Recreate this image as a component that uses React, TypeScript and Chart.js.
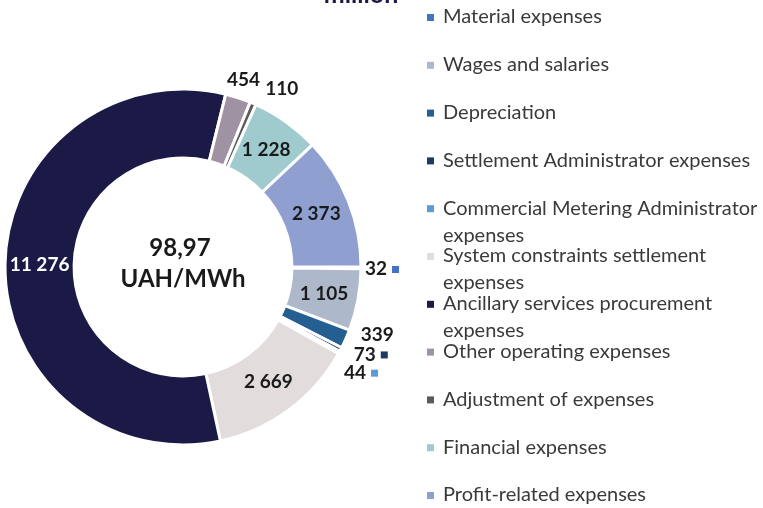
import React, { useEffect, useRef } from "react";
import { Chart, registerables } from "chart.js";

Chart.register(...registerables);

const categories: (string | string[])[] = [
  "Material expenses",
  "Wages and salaries",
  "Depreciation",
  "Settlement Administrator expenses",
  ["Commercial Metering Administrator", "expenses"],
  ["System constraints settlement", "expenses"],
  ["Ancillary services procurement", "expenses"],
  "Other operating expenses",
  "Adjustment of expenses",
  "Financial expenses",
  "Profit-related expenses",
];

const values = [32, 1105, 339, 73, 44, 2669, 11276, 454, 110, 1228, 2373];

const valueLabels = ["32", "1 105", "339", "73", "44", "2 669", "11 276", "454", "110", "1 228", "2 373"];

const colors = [
  "#4472c4",
  "#adb9ca",
  "#255e91",
  "#203864",
  "#5b9bd5",
  "#e2dcdc",
  "#1b1a47",
  "#9f92a3",
  "#5a5a5a",
  "#9fcbcf",
  "#8e9fd0",
];

const centerLines = ["98,97", "UAH/MWh"];
const titleText = "million";

// outside label placement: [extra radius, dx, dy, square]
const outside: Record<number, [number, number, number, boolean]> = {
  0: [15, 0, 1, true],
  2: [17, 16, -11, false],
  3: [17, 9, -3, true],
  4: [17, 1, 12, true],
  7: [17, 0, -2, false],
  8: [17, 22, 1, false],
};

const FONT = "Lato, 'Open Sans', sans-serif";

const customPlugin = {
  id: "custom",
  afterDraw(chart: any) {
    const ctx: CanvasRenderingContext2D = chart.ctx;
    const meta = chart.getDatasetMeta(0);
    ctx.save();
    ctx.font = `bold 19px ${FONT}`;
    ctx.textBaseline = "middle";
    meta.data.forEach((arc: any, i: number) => {
      const { x, y, startAngle, endAngle, outerRadius } = arc.getProps(
        ["x", "y", "startAngle", "endAngle", "outerRadius"],
        true
      );
      const txt = valueLabels[i];
      const place = outside[i];
      if (place) {
        const mid = (startAngle + endAngle) / 2;
        const r = outerRadius + place[0];
        const px = x + Math.cos(mid) * r + place[1];
        const py = y + Math.sin(mid) * r + place[2];
        ctx.fillStyle = "#1a1a1a";
        ctx.textAlign = "center";
        ctx.fillText(txt, px, py);
        if (place[3]) {
          const w = ctx.measureText(txt).width;
          ctx.fillStyle = colors[i];
          ctx.fillRect(px + w / 2 + 5, py - 3, 7, 7);
        }
      } else {
        const p = arc.tooltipPosition(true);
        ctx.fillStyle = i === 6 ? "#ffffff" : "#1a1a1a";
        ctx.textAlign = "center";
        ctx.fillText(txt, p.x, p.y);
      }
    });

    const a0 = meta.data[0];
    const cx = a0.x;
    const cy = a0.y;
    ctx.fillStyle = "#1a1a1a";
    ctx.font = `bold 24px ${FONT}`;
    ctx.textAlign = "center";
    ctx.fillText(centerLines[0], cx - 3, cy - 19);
    ctx.fillText(centerLines[1], cx, cy + 12);

    ctx.fillStyle = "#1b1a47";
    ctx.font = `bold 25px ${FONT}`;
    ctx.textBaseline = "alphabetic";
    ctx.fillText(titleText, 361, 3);

    ctx.font = `20px ${FONT}`;
    ctx.textAlign = "left";
    ctx.textBaseline = "middle";
    const step = 47.8;
    categories.forEach((lab, i) => {
      const yy = 17 + i * step;
      ctx.fillStyle = colors[i];
      ctx.fillRect(427, yy - 3, 7, 7);
      ctx.fillStyle = "#3a3a3a";
      const lines = Array.isArray(lab) ? lab : [lab];
      lines.forEach((ln, k) => ctx.fillText(ln, 443, yy + k * 27));
    });
    ctx.restore();
  },
};

export default function App() {
  const ref = useRef<HTMLCanvasElement | null>(null);
  useEffect(() => {
    if (!ref.current) return;
    const chart = new Chart(ref.current, {
      type: "doughnut",
      data: {
        labels: categories as any,
        datasets: [
          {
            data: values,
            backgroundColor: colors,
            borderColor: "#ffffff",
            borderWidth: 3,
          },
        ],
      },
      options: {
        responsive: false,
        animation: false,
        rotation: 90,
        radius: 178,
        cutout: 108,
        layout: { padding: { left: 5, right: 402, top: 89, bottom: 63 } },
        plugins: {
          legend: { display: false },
          tooltip: { enabled: false },
          title: { display: false },
        },
      },
      plugins: [customPlugin],
    });
    if ((document as any).fonts) {
      Promise.all([
        (document as any).fonts.load(`bold 19px Lato`),
        (document as any).fonts.load(`20px Lato`),
      ]).then(() => chart.draw()).catch(() => {});
    }
    return () => chart.destroy();
  }, []);
  return (
    <div style={{ position: "fixed", left: 0, top: 0, width: 763, height: 508, background: "#fff" }}>
      <canvas ref={ref} width={763} height={508} />
    </div>
  );
}
